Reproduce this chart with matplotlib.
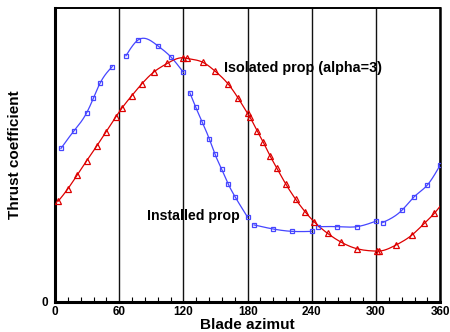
import numpy as np
import matplotlib
matplotlib.use('Agg')
import matplotlib.pyplot as plt
from matplotlib.ticker import MultipleLocator

plt.rcParams['font.family'] = ['Liberation Sans', 'DejaVu Sans']
plt.rcParams['font.weight'] = 'bold'

# Installed propeller: thrust coefficient vs blade azimuth (one run per 60 deg sector)
installed_az = [5.6, 17.8, 29.6, 35.8, 42.0, 53.5,
                66.3, 77.8, 96.0, 108.0, 119.9,
                126.0, 131.5, 137.6, 144.2, 149.5, 155.8, 162.0, 168.2, 180.0,
                186.0, 204.0, 221.7, 239.8,
                246.0, 263.8, 281.9, 300.0,
                306.2, 324.5, 335.7, 348.0, 360.0]
installed_ct = [0.521, 0.581, 0.642, 0.691, 0.742, 0.799,
                0.836, 0.890, 0.870, 0.833, 0.780,
                0.710, 0.661, 0.610, 0.553, 0.501, 0.450, 0.399, 0.357, 0.287,
                0.261, 0.247, 0.239, 0.239,
                0.255, 0.255, 0.255, 0.274,
                0.269, 0.312, 0.357, 0.397, 0.465]
sector_edges = [60, 120, 180, 240, 300]

# Isolated propeller at alpha=3
isolated_az = [3.1, 11.9, 20.8, 29.6, 39.0, 47.7, 57.0, 62.3, 71.7, 81.0, 92.8,
               104.9, 119.9, 123.0, 138.0, 149.5, 162.0, 171.3, 180.0, 182.2,
               189.0, 194.6, 200.9, 207.1, 215.8, 224.9, 233.6, 242.3, 254.8,
               267.0, 282.2, 300.6, 302.7, 318.3, 333.3, 345.1, 354.4, 360.0]
isolated_ct = [0.342, 0.383, 0.431, 0.479, 0.529, 0.578, 0.629, 0.657, 0.700, 0.740, 0.782,
               0.810, 0.829, 0.827, 0.814, 0.784, 0.739, 0.691, 0.640, 0.627,
               0.580, 0.542, 0.496, 0.455, 0.399, 0.348, 0.306, 0.271, 0.232,
               0.203, 0.180, 0.172, 0.172, 0.192, 0.226, 0.266, 0.300, 0.325]


def spline(x, y, n=150):
    # natural cubic spline through the points
    x = np.asarray(x, float)
    y = np.asarray(y, float)
    m = len(x)
    if m < 3:
        return x, y
    h = np.diff(x)
    A = np.zeros((m, m))
    b = np.zeros(m)
    A[0, 0] = A[-1, -1] = 1
    for i in range(1, m - 1):
        A[i, i - 1] = h[i - 1]
        A[i, i] = 2 * (h[i - 1] + h[i])
        A[i, i + 1] = h[i]
        b[i] = 6 * ((y[i + 1] - y[i]) / h[i] - (y[i] - y[i - 1]) / h[i - 1])
    M = np.linalg.solve(A, b)
    xs = np.linspace(x[0], x[-1], n)
    k = np.clip(np.searchsorted(x, xs) - 1, 0, m - 2)
    t0 = x[k + 1] - xs
    t1 = xs - x[k]
    hk = h[k]
    ys = (M[k] * t0 ** 3 + M[k + 1] * t1 ** 3) / (6 * hk) \
        + (y[k] / hk - M[k] * hk / 6) * t0 + (y[k + 1] / hk - M[k + 1] * hk / 6) * t1
    return xs, ys


blue = '#4646ff'
red = '#dd0000'

fig = plt.figure(figsize=(4.5, 3.32), dpi=100)
ax = fig.add_axes([0.1222, 0.0913, 0.8562, 0.8861])

# installed prop, one curve per sector
az = np.array(installed_az)
ct = np.array(installed_ct)
sector = np.digitize(az, sector_edges, right=True)
for s in np.unique(sector):
    sel = sector == s
    xs, ys = spline(az[sel], ct[sel])
    ax.plot(xs, ys, color=blue, lw=0.9, zorder=3)
ax.plot(az, ct, ls='none', marker='s', ms=3.5, mfc='none', mec=blue, mew=0.9, zorder=4)

# isolated prop
xs, ys = spline(isolated_az, isolated_ct)
ax.plot(xs, ys, color=red, lw=0.9, zorder=3)
ax.plot(isolated_az[:-1], isolated_ct[:-1], ls='none', marker='^', ms=4,
        mfc='none', mec=red, mew=0.9, zorder=4)

ax.text(157.9, 0.794, 'Isolated prop (alpha=3)', fontsize=10.4, fontweight='bold',
        ha='left', va='center')
ax.text(85.7, 0.291, 'Installed prop', fontsize=10.2, fontweight='bold',
        ha='left', va='center')

ax.set_xlim(0, 360)
ax.set_ylim(0, 1)
ax.xaxis.set_major_locator(MultipleLocator(60))
ax.xaxis.set_minor_locator(MultipleLocator(12))
ax.set_yticks([0])
ax.grid(axis='x', which='major', color='#111111', lw=1)
ax.tick_params(axis='x', which='major', length=0, pad=3, labelsize=8.5)
ax.tick_params(axis='x', which='minor', direction='in', length=3.5, width=0.8)
ax.tick_params(axis='y', length=0, pad=5, labelsize=8.5)
for lbl in ax.get_xticklabels() + ax.get_yticklabels():
    lbl.set_fontweight('bold')

ax.spines['left'].set_linewidth(2.2)
ax.spines['bottom'].set_linewidth(2.2)
ax.spines['top'].set_linewidth(1.4)
ax.spines['right'].set_linewidth(1.8)

ax.set_xlabel('Blade azimut', fontsize=11, fontweight='bold', labelpad=0)
ax.set_ylabel('Thrust coefficient', fontsize=11, fontweight='bold', labelpad=14)

fig.savefig('out.png', dpi=100)
